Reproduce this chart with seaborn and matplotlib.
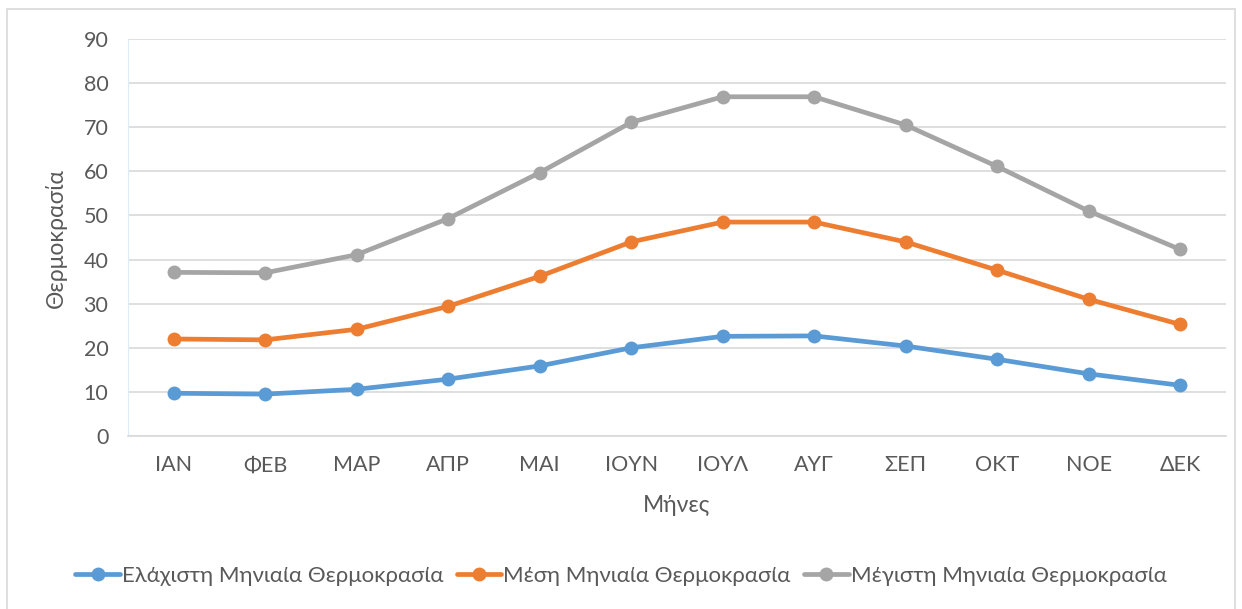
import pandas as pd
import seaborn as sns
import matplotlib.pyplot as plt
from matplotlib.patches import Rectangle

# Months and monthly temperatures
months = ["ΙΑΝ", "ΦΕΒ", "ΜΑΡ", "ΑΠΡ", "ΜΑΙ", "ΙΟΥΝ", "ΙΟΥΛ", "ΑΥΓ", "ΣΕΠ", "ΟΚΤ", "ΝΟΕ", "ΔΕΚ"]
min_temp = [9.7, 9.5, 10.6, 12.9, 15.9, 20.0, 22.6, 22.7, 20.4, 17.4, 14.1, 11.5]
mean_temp = [22.0, 21.8, 24.2, 29.4, 36.2, 44.0, 48.5, 48.5, 44.0, 37.6, 31.0, 25.3]
max_temp = [37.1, 37.0, 41.1, 49.3, 59.7, 71.1, 76.9, 76.9, 70.5, 61.1, 51.0, 42.3]

series_names = ["Ελάχιστη Μηνιαία Θερμοκρασία", "Μέση Μηνιαία Θερμοκρασία", "Μέγιστη Μηνιαία Θερμοκρασία"]
colors = ["#5B9BD5", "#ED7D31", "#A5A5A5"]

# Build a long-form table for seaborn
frames = []
for name, vals in zip(series_names, [min_temp, mean_temp, max_temp]):
    frames.append(pd.DataFrame({"month": range(len(months)), "temp": vals, "series": name}))
data = pd.concat(frames, ignore_index=True)

sns.set_style("white")
plt.rcParams["font.family"] = ["Lato", "DejaVu Sans"]

fig = plt.figure(figsize=(12.42, 6.09), dpi=100)
ax = fig.add_axes([0.103, 0.284, 0.884, 0.652])

sns.lineplot(data=data, x="month", y="temp", hue="series", palette=colors,
             marker="o", markersize=10, markeredgewidth=0, linewidth=3.4,
             ax=ax, legend=False)

# Axes styling (Excel look)
ax.set_xlim(-0.5, len(months) - 0.5)
ax.set_ylim(0, 90)
ax.set_yticks(range(0, 91, 10))
ax.set_xticks(range(len(months)))
ax.set_xticklabels(months)
ax.yaxis.grid(True, color="#D9D9D9", linewidth=1.2)
ax.set_axisbelow(True)
for side in ["top", "right"]:
    ax.spines[side].set_visible(False)
ax.spines["left"].set_color("#DDEBF7")
ax.spines["bottom"].set_color("#D9D9D9")
ax.spines["bottom"].set_linewidth(1.2)
ax.tick_params(axis="both", length=0, labelsize=15.5, labelcolor="#595959", pad=14)
ax.tick_params(axis="y", pad=14)

ax.set_xlabel("Μήνες", fontsize=16.5, color="#595959", labelpad=14)
ax.set_ylabel("Θερμοκρασία", fontsize=16.5, color="#595959", labelpad=12)

# Legend at the bottom
handles = [plt.Line2D([], [], color=c, linewidth=3.4, marker="o", markersize=10, markeredgewidth=0)
           for c in colors]
fig.legend(handles, series_names, loc="center", bbox_to_anchor=(0.5, 0.054), ncol=3,
           frameon=False, fontsize=16, labelcolor="#595959", handlelength=2.0,
           handletextpad=0.1, columnspacing=0.6)

# Outer chart border
fig.patches.append(Rectangle((0.006, -0.01), 0.988, 0.995, transform=fig.transFigure,
                             fill=False, edgecolor="#D9D9D9", linewidth=1.2))

fig.savefig("out.png", dpi=100)
